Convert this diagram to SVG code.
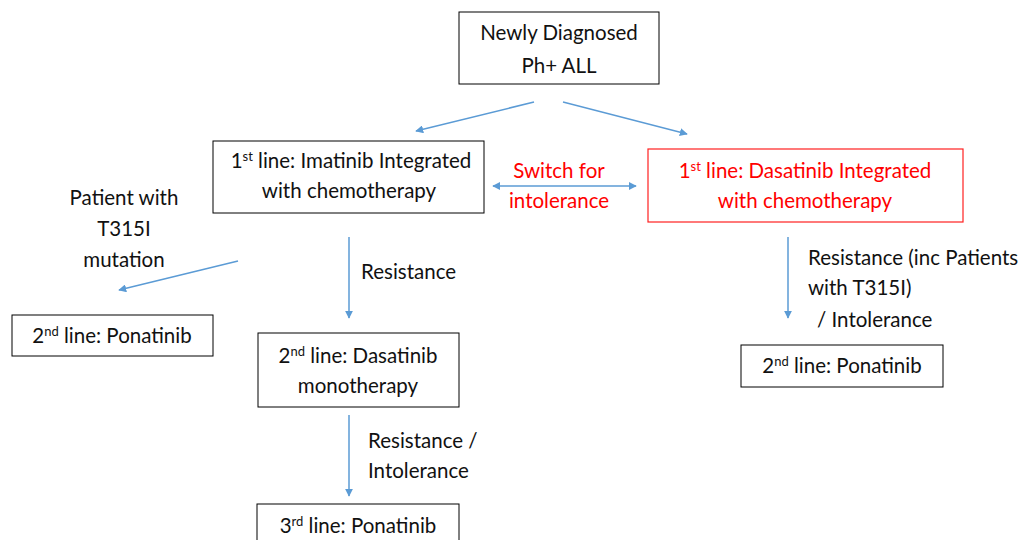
<svg xmlns="http://www.w3.org/2000/svg" width="1021" height="540" viewBox="0 0 1021 540">
<style>
.box{fill:#fff;stroke:#000;stroke-width:1}
.rbox{fill:#fff;stroke:#ff2020;stroke-width:1.2}
text{font-family:Lato,"Liberation Sans",sans-serif;font-size:20.5px;fill:#111}
.c{text-anchor:middle}
.red{fill:#ff0000}
.conn{stroke:#5b9bd5;stroke-width:1.5;fill:none}
</style>
<defs>
<marker id="ah" viewBox="0 0 10 10" refX="9" refY="5" markerWidth="8" markerHeight="8" markerUnits="userSpaceOnUse" orient="auto-start-reverse">
<path d="M0,0 L10,5 L0,10 z" fill="#5b9bd5"/>
</marker>
</defs>
<rect width="1021" height="540" fill="#fff"/>
<g id="connectors">
<line class="conn" x1="534" y1="102" x2="416" y2="131" marker-end="url(#ah)"/>
<line class="conn" x1="563" y1="102" x2="687" y2="134" marker-end="url(#ah)"/>
<line class="conn" x1="493" y1="186" x2="636" y2="186" marker-start="url(#ah)" marker-end="url(#ah)"/>
<line class="conn" x1="238" y1="261" x2="119" y2="290" marker-end="url(#ah)"/>
<line class="conn" x1="349" y1="237" x2="349" y2="318" marker-end="url(#ah)"/>
<line class="conn" x1="788" y1="237" x2="788" y2="318" marker-end="url(#ah)"/>
<line class="conn" x1="349" y1="415" x2="349" y2="496" marker-end="url(#ah)"/>
</g>
<g id="labels">
<text class="c red" x="559" y="178">Switch for</text>
<text class="c red" x="559" y="208">intolerance</text>
<text class="c" x="124" y="205">Patient with</text>
<text class="c" x="124" y="236">T315I</text>
<text class="c" x="124" y="267">mutation</text>
<text x="361" y="279">Resistance</text>
<text x="808" y="265">Resistance (inc Patients</text>
<text x="808" y="295">with T315I)</text>
<text x="817" y="327">/ Intolerance</text>
<text x="368" y="448">Resistance /</text>
<text x="368" y="478">Intolerance</text>
</g>
<g id="node-root">
<rect class="box" x="459" y="12" width="200" height="72"/>
<text class="c" x="559" y="40">Newly Diagnosed</text>
<text class="c" x="559" y="73">Ph+ ALL</text>
</g>
<g id="node-imatinib">
<rect class="box" x="213" y="141" width="271" height="72"/>
<text class="c" x="351" y="168">1<tspan dy="-7" font-size="13">st</tspan><tspan dy="7"> line: Imatinib Integrated</tspan></text>
<text class="c" x="349" y="198">with chemotherapy</text>
</g>
<g id="node-dasatinib1">
<rect class="rbox" x="648" y="149" width="315" height="73"/>
<text class="c red" x="805" y="178">1<tspan dy="-7" font-size="13">st</tspan><tspan dy="7"> line: Dasatinib Integrated</tspan></text>
<text class="c red" x="805" y="208">with chemotherapy</text>
</g>
<g id="node-ponatinib-left">
<rect class="box" x="12" y="315" width="201" height="41"/>
<text class="c" x="112" y="343">2<tspan dy="-7" font-size="13">nd</tspan><tspan dy="7"> line: Ponatinib</tspan></text>
</g>
<g id="node-dasatinib2">
<rect class="box" x="258" y="333" width="201" height="74"/>
<text class="c" x="358" y="363">2<tspan dy="-7" font-size="13">nd</tspan><tspan dy="7"> line: Dasatinib</tspan></text>
<text class="c" x="358" y="393">monotherapy</text>
</g>
<g id="node-ponatinib-right">
<rect class="box" x="741" y="345" width="202" height="42"/>
<text class="c" x="842" y="373">2<tspan dy="-7" font-size="13">nd</tspan><tspan dy="7"> line: Ponatinib</tspan></text>
</g>
<g id="node-ponatinib-3rd">
<rect class="box" x="257" y="504" width="202" height="50"/>
<text class="c" x="358" y="533">3<tspan dy="-7" font-size="13">rd</tspan><tspan dy="7"> line: Ponatinib</tspan></text>
</g>
</svg>
